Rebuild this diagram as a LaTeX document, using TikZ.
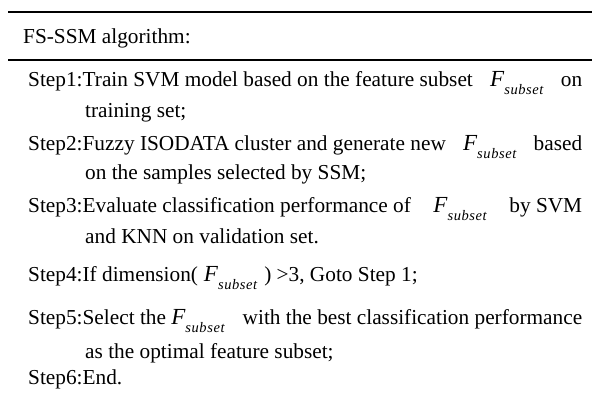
\documentclass[tikz,border=0pt]{standalone}
\usepackage{fontspec}
\setmainfont{Liberation Serif}
% italic F with a lowered, loosely spaced italic "subset" index
\newcommand{\subsetidx}{{\fontsize{14.5}{14.5}\selectfont\itshape s\kern.6pt u\kern.6pt b\kern.6pt s\kern.6pt e\kern.6pt t}}
\newcommand{\Fsubset}{{\fontsize{23}{23}\selectfont\itshape F}\raisebox{-8pt}{\subsetidx}}
% stretchable gap around the F symbol inside a justified line
\newcommand{\fgap}{\hspace{4pt plus 1fill}}
\tikzset{
  txt/.style={anchor=base west, inner sep=0pt, font=\fontsize{21.3}{25}\selectfont},
  rulel/.style={line width=2pt}
}
\begin{document}
\begin{tikzpicture}[x=1pt,y=-1pt]
\useasboundingbox (0,0) rectangle (592,401);
% horizontal rules of the algorithm box
\coordinate (r1a) at (8,12);  \coordinate (r1b) at (592,12);
\coordinate (r2a) at (8,60);  \coordinate (r2b) at (592,60);
\draw[rulel] (r1a) -- (r1b);
\draw[rulel] (r2a) -- (r2b);
% caption
\node[txt] (title) at (23,44) {FS-SSM algorithm:};
% steps
\node[txt] (s1) at (28,87) {\hbox to 554pt{Step1:Train SVM model based on the feature subset\fgap\Fsubset\fgap on}};
\node[txt] (s1b) at (85,118) {training set;};
\node[txt] (s2) at (28,151) {\hbox to 554pt{Step2:Fuzzy ISODATA cluster and generate new\fgap\Fsubset\fgap based}};
\node[txt] (s2b) at (85,180) {on the samples selected by SSM;};
\node[txt] (s3) at (28,212) {\hbox to 554pt{Step3:Evaluate classification performance of\fgap\Fsubset\fgap by SVM}};
\node[txt] (s3b) at (85,243) {and KNN on validation set.};
\node[txt] (s4) at (28,281) {Step4:If dimension(\hspace{6pt}\Fsubset\hspace{7pt}) >3, Goto Step 1;};
\node[txt] (s5) at (28,324) {\hbox to 554pt{Step5:Select the \Fsubset\fgap with the best classification performance}};
\node[txt] (s5b) at (85,358) {as the optimal feature subset;};
\node[txt] (s6) at (28,384) {Step6:End.};
\end{tikzpicture}
\end{document}
